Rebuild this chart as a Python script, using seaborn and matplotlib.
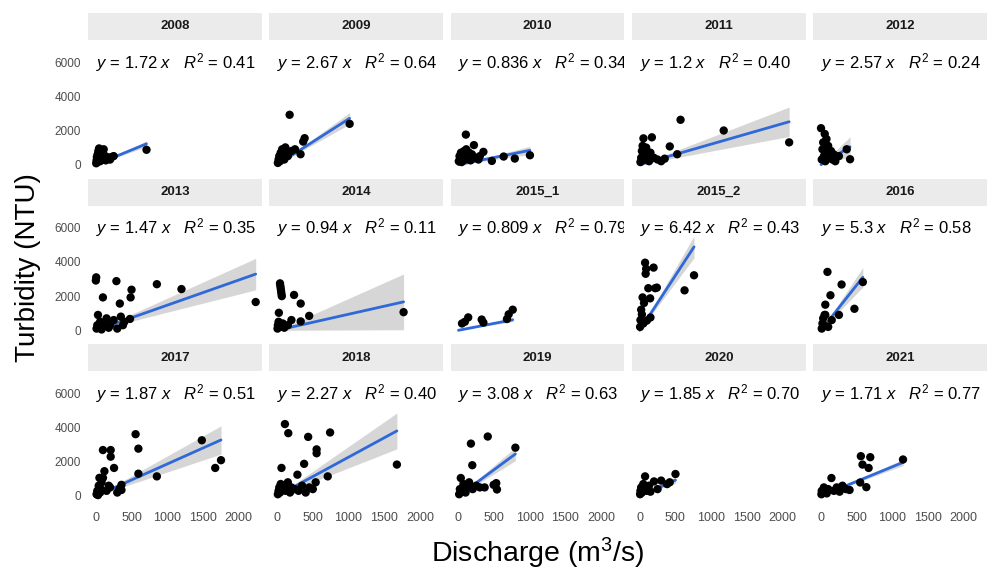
import numpy as np
import pandas as pd
import matplotlib
matplotlib.use("Agg")
import matplotlib.pyplot as plt
from matplotlib.patches import Rectangle
import seaborn as sns

# ---- data: discharge (m3/s) and turbidity (NTU) per period ----
years = ["2008", "2009", "2010", "2011", "2012",
         "2013", "2014", "2015_1", "2015_2", "2016",
         "2017", "2018", "2019", "2020", "2021"]

q_2008 = [5, 10, 15, 20, 25, 30, 35, 40, 45, 50, 55, 60, 70, 80, 90, 100, 110, 120, 130, 140, 150, 165, 180, 200, 220, 250, 710]
t_2008 = [80, 250, 450, 150, 600, 350, 800, 500, 950, 300, 700, 200, 850, 550, 400, 650, 900, 300, 500, 250, 450, 350, 400, 300, 450, 500, 870]

q_2009 = [10, 20, 30, 40, 50, 60, 70, 80, 100, 115, 130, 150, 175, 200, 250, 328, 365, 385, 1016]
t_2009 = [100, 300, 500, 200, 700, 400, 900, 600, 300, 1010, 700, 500, 2920, 800, 900, 610, 1350, 1550, 2390]

q_2010 = [5, 15, 25, 35, 45, 55, 65, 80, 95, 104, 110, 130, 150, 170, 190, 217, 250, 280, 300, 350, 468, 634, 790, 1002]
t_2010 = [200, 500, 350, 700, 150, 600, 400, 800, 300, 1760, 900, 500, 700, 250, 600, 1145, 400, 300, 500, 750, 218, 475, 356, 550]

q_2011 = [10, 20, 30, 40, 52, 60, 75, 90, 110, 130, 150, 170, 200, 250, 300, 350, 421, 525, 572, 1177, 2094]
t_2011 = [150, 400, 800, 1100, 1540, 600, 300, 1000, 500, 200, 700, 1600, 400, 300, 200, 350, 1067, 610, 2627, 2000, 1305]

q_2012 = [0, 10, 20, 30, 40, 52, 60, 76, 90, 100, 120, 140, 160, 180, 200, 250, 360, 407]
t_2012 = [2135, 300, 900, 1300, 500, 1800, 200, 1500, 700, 1100, 400, 800, 300, 600, 200, 500, 900, 316]

q_2013 = [0, 5, 10, 20, 30, 40, 60, 80, 99, 120, 150, 180, 200, 250, 288, 300, 336, 350, 380, 400, 478, 487, 500, 855, 1200, 2240]
t_2013 = [2916, 3100, 100, 300, 900, 200, 500, 50, 1926, 400, 700, 150, 300, 600, 2880, 100, 1566, 800, 300, 500, 666, 1926, 2376, 2700, 2413, 1657]

q_2014 = [5, 10, 20, 24, 30, 40, 45, 50, 55, 60, 65, 80, 100, 150, 200, 237, 330, 330, 449, 1772]
t_2014 = [100, 300, 500, 1026, 200, 2750, 2600, 2450, 2300, 2150, 2000, 400, 150, 300, 600, 2070, 1566, 522, 846, 1062]

q_2015_1 = [50, 90, 137, 326, 350, 680, 704, 761]
t_2015_1 = [400, 500, 756, 630, 450, 660, 936, 1206]

q_2015_2 = [5, 10, 20, 30, 40, 50, 60, 75, 83, 90, 100, 120, 146, 150, 194, 217, 240, 628, 761]
t_2015_2 = [200, 600, 1206, 930, 1926, 400, 1600, 3960, 3310, 3600, 570, 2466, 1872, 750, 3672, 2466, 2500, 2340, 3222]

q_2016 = [10, 20, 30, 40, 50, 60, 60, 90, 100, 132, 150, 251, 288, 468, 586]
t_2016 = [100, 400, 700, 300, 900, 1500, 900, 3420, 200, 2052, 600, 900, 2682, 1260, 2826]

q_2017 = [10, 20, 30, 40, 50, 60, 70, 80, 99, 100, 120, 150, 180, 208, 208, 200, 255, 300, 330, 359, 359, 557, 596, 596, 855, 1485, 1673, 1754]
t_2017 = [100, 300, 50, 600, 1060, 200, 400, 800, 2688, 1060, 1450, 300, 600, 2688, 2300, 500, 1640, 200, 400, 650, 350, 3617, 2770, 1304, 1146, 3261, 1640, 2094]

q_2018 = [10, 20, 30, 40, 50, 61, 80, 100, 109, 120, 150, 156, 180, 200, 250, 284, 300, 350, 378, 400, 435, 450, 500, 540, 553, 553, 709, 742, 1678]
t_2018 = [100, 300, 500, 200, 700, 1642, 400, 600, 4210, 300, 800, 3677, 200, 500, 400, 1245, 300, 600, 1880, 200, 3459, 500, 400, 800, 2728, 2500, 1146, 3717, 1838]

q_2019 = [10, 20, 33, 50, 70, 100, 130, 150, 175, 194, 200, 250, 300, 367, 411, 493, 530, 540, 798]
t_2019 = [100, 400, 1050, 300, 700, 200, 500, 800, 3065, 1800, 400, 600, 500, 500, 3480, 650, 750, 380, 2828]

q_2020 = [5, 10, 20, 30, 50, 60, 75, 100, 130, 150, 200, 250, 300, 383, 420, 501]
t_2020 = [100, 300, 500, 200, 700, 400, 1146, 300, 600, 250, 850, 400, 900, 694, 800, 1285]

q_2021 = [5, 10, 20, 40, 60, 80, 100, 146, 180, 220, 260, 300, 350, 400, 549, 558, 581, 635, 667, 690, 1149]
t_2021 = [100, 300, 200, 500, 350, 150, 400, 1050, 300, 500, 250, 600, 400, 350, 790, 2330, 1838, 515, 1640, 2270, 2135]

discharge = [q_2008, q_2009, q_2010, q_2011, q_2012, q_2013, q_2014, q_2015_1,
             q_2015_2, q_2016, q_2017, q_2018, q_2019, q_2020, q_2021]
turbidity = [t_2008, t_2009, t_2010, t_2011, t_2012, t_2013, t_2014, t_2015_1,
             t_2015_2, t_2016, t_2017, t_2018, t_2019, t_2020, t_2021]

# regression through the origin: slope, its standard error and R^2 per period
slopes = ["1.72", "2.67", "0.836", "1.2", "2.57",
          "1.47", "0.94", "0.809", "6.42", "5.3",
          "1.87", "2.27", "3.08", "1.85", "1.71"]
slope_se = [0.12, 0.17, 0.12, 0.21, 0.74,
            0.21, 0.47, 0.07, 0.43, 0.50,
            0.24, 0.32, 0.25, 0.18, 0.08]
r2 = ["0.41", "0.64", "0.34", "0.40", "0.24",
      "0.35", "0.11", "0.79", "0.43", "0.58",
      "0.51", "0.40", "0.63", "0.70", "0.77"]

x_ticks = [0, 500, 1000, 1500, 2000]
y_ticks = [0, 2000, 4000, 6000]

# ---- long table ----
frames = []
for yr, q, t in zip(years, discharge, turbidity):
    frames.append(pd.DataFrame({"year": yr, "Discharge": q, "Turbidity": t}))
df = pd.concat(frames, ignore_index=True)
slope_of = dict(zip(years, slopes))
se_of = dict(zip(years, slope_se))
r2_of = dict(zip(years, r2))

# ---- style ----
sns.set_style("white")
plt.rcParams["font.family"] = ["Liberation Sans", "DejaVu Sans"]
plt.rcParams["mathtext.fontset"] = "custom"
plt.rcParams["mathtext.rm"] = "Liberation Sans"
plt.rcParams["mathtext.it"] = "Liberation Sans:italic"

LINE_BLUE = "#2F68D8"
BAND_GREY = "#999999"
STRIP_GREY = "#EBEBEB"
Z975 = 1.96


def draw_panel(data, **kws):
    ax = plt.gca()
    yr = data["year"].iloc[0]
    b = float(slope_of[yr])
    x = data["Discharge"].to_numpy(float)

    # fitted line y = b x with its 95% confidence band
    xg = np.linspace(0, x.max(), 80)
    half = Z975 * se_of[yr] * xg
    ax.fill_between(xg, b * xg - half, b * xg + half, color=BAND_GREY,
                    alpha=0.4, lw=0, zorder=2)
    sns.lineplot(x=xg, y=b * xg, ax=ax, color=LINE_BLUE, lw=2.0, zorder=3)

    sns.scatterplot(data=data, x="Discharge", y="Turbidity", ax=ax,
                    color="black", s=36, edgecolor="none", zorder=4)

    ax.text(0, 6000,
            r"$y$ = " + slope_of[yr] + r" $x$   $R^2$ = " + r2_of[yr],
            ha="left", va="center", fontsize=12, color="black",
            clip_on=True, zorder=5)

    # facet strip
    strip_h = 0.202
    ax.add_patch(Rectangle((0, 1), 1, strip_h, transform=ax.transAxes,
                           facecolor=STRIP_GREY, edgecolor="none",
                           clip_on=False, zorder=1))
    ax.text(0.5, 1 + strip_h / 2, yr, transform=ax.transAxes,
            ha="center", va="center", fontsize=9.5, fontweight="bold",
            color="#1A1A1A", clip_on=False)


g = sns.FacetGrid(df, col="year", col_wrap=5, col_order=years,
                  sharex=True, sharey=True, height=1.4, aspect=1.3,
                  despine=False)
g.map_dataframe(draw_panel)
g.set_titles("")
g.set_axis_labels("", "")
g.set(xlim=(-110, 2326), ylim=(-530, 7300), xticks=x_ticks, yticks=y_ticks)

for ax in g.axes.flat:
    for sp in ax.spines.values():
        sp.set_visible(False)
    ax.set_facecolor("white")
    ax.grid(False)
    ax.tick_params(axis="both", which="both", length=3, width=0.8,
                   color="#333333", pad=2)
    ax.tick_params(axis="y", labelsize=8.5, labelcolor="#4D4D4D")
    ax.tick_params(axis="x", labelsize=9, labelcolor="#4D4D4D")
    if ax.get_subplotspec().is_first_col():
        ax.set_yticklabels([str(v) for v in y_ticks])
    if ax.get_subplotspec().is_last_row():
        ax.set_xticklabels([str(v) for v in x_ticks])

fig = g.figure
fig.set_size_inches(9.89, 5.71)
fig.subplots_adjust(left=88 / 989, right=987 / 989, top=1 - 40 / 571,
                    bottom=1 - 505 / 571, wspace=0.043, hspace=0.239)

fig.text(28 / 989, 1 - 268 / 571, "Turbidity (NTU)", rotation=90,
         ha="center", va="center", fontsize=20, color="black")
fig.text(538 / 989, 1 - 553 / 571, r"Discharge (m$^3$/s)",
         ha="center", va="center", fontsize=20.5, color="black")

fig.savefig("out.png", dpi=100, facecolor="white")
